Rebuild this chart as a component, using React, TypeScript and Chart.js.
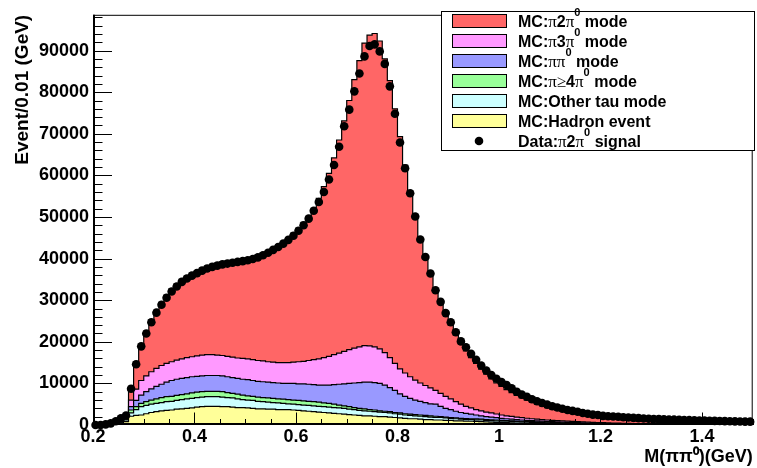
import React, { useEffect, useRef } from "react";
import { Chart, registerables } from "chart.js";

Chart.register(...registerables);

// ---- binning / axes ----
const BIN_START = 0.2;
const BIN_WIDTH = 0.01;
const X_MIN = 0.2;
const X_MAX = 1.5;
const Y_MIN = 0;
const Y_MAX = 98600;
const X_TICKS = [0.2, 0.4, 0.6, 0.8, 1, 1.2, 1.4];
const Y_TICKS = [0, 10000, 20000, 30000, 40000, 50000, 60000, 70000, 80000, 90000];
const X_MINOR_STEP = 0.05;
const Y_MINOR_STEP = 2000;

// ---- data points (Data: pi 2pi0 signal), one per 0.01 GeV bin ----
const DATA_SIGNAL = [
  0, 0, 150, 400, 900, 1600, 2300, 8700, 14600, 18900,
  22000, 24700, 27000, 28900, 30600, 32100, 33300, 34400, 35200, 35900,
  36500, 37100, 37600, 38000, 38300, 38600, 38800, 39000, 39200, 39400,
  39600, 39900, 40300, 40800, 41400, 42100, 42800, 43600, 44500, 45500,
  46700, 48000, 49600, 51500, 53600, 56000, 59000, 62500, 66900, 71800,
  75800, 80200, 84500, 88600, 91100, 91500, 89800, 86800, 81400, 74800,
  67900, 61700, 55700, 50100, 44600, 40400, 36400, 32400, 29600, 26900,
  24700, 22300, 20100, 18700, 17100, 15700, 14300, 13100, 12000, 11100,
  10300, 9600, 8800, 8000, 7300, 6800, 6200, 5700, 5300, 4900,
  4500, 4200, 3900, 3600, 3400, 3200, 2900, 2700, 2500, 2400,
  2200, 2120, 2050, 1970, 1880, 1800, 1720, 1650, 1580, 1520,
  1460, 1410, 1360, 1320, 1280, 1240, 1200, 1160, 1120, 1090,
  1060, 1030, 1000, 970, 940, 910, 880, 850, 820, 800,
];

// ---- MC stack: top of each stacked layer (THStack levels) ----
const STACK_PI2PI0 = [
  0, 50, 200, 450, 900, 1400, 2300, 9300, 15200, 19400,
  22600, 25300, 27600, 29500, 31200, 32700, 33900, 35000, 35800, 36500,
  37100, 37700, 38200, 38600, 38900, 39200, 39400, 39600, 39800, 40000,
  40200, 40500, 40900, 41400, 41900, 42600, 43300, 44100, 45000, 46100,
  47300, 48700, 50100, 52100, 54500, 57300, 60500, 64200, 68500, 73100,
  78000, 83000, 87600, 91800, 93700, 94100, 92300, 88000, 82800, 76000,
  69300, 62500, 56100, 50600, 44500, 40000, 36000, 32300, 29200, 26500,
  24000, 21600, 19500, 17800, 16200, 14800, 13400, 12200, 11100, 10100,
  9300, 8500, 7800, 7100, 6500, 6000, 5500, 5000, 4600, 4200,
  3900, 3600, 3300, 3050, 2800, 2600, 2400, 2200, 2050, 1900,
  1750, 1620, 1500, 1380, 1280, 1180, 1100, 1020, 950, 880,
  820, 760, 710, 660, 620, 580, 540, 500, 470, 440,
  410, 380, 360, 340, 320, 300, 280, 260, 250, 240,
];
const STACK_PI3PI0 = [
  0, 0, 150, 400, 800, 1300, 2100, 6000, 8600, 10700,
  11800, 12800, 13600, 14300, 14800, 15200, 15600, 15900, 16200, 16400,
  16600, 16800, 16900, 16900, 16800, 16700, 16500, 16300, 16100, 16000,
  15900, 15700, 15500, 15400, 15200, 15100, 15000, 15000, 15000, 15100,
  15200, 15300, 15500, 15700, 15900, 16200, 16500, 16900, 17300, 17700,
  18100, 18500, 18800, 19100, 19000, 18800, 18300, 17400, 16200, 14800,
  13500, 12500, 11600, 10800, 10100, 9500, 8900, 8300, 7600, 6900,
  6300, 5600, 5000, 4500, 4100, 3700, 3400, 3100, 2900, 2650,
  2400, 2200, 2050, 1900, 1750, 1620, 1500, 1400, 1300, 1200,
  1120, 1050, 980, 910, 850, 790, 730, 680, 630, 590,
  550, 510, 480, 440, 410, 380, 350, 330, 300, 280,
  260, 240, 220, 200, 190, 180, 170, 160, 150, 140,
  130, 120, 110, 100, 95, 90, 85, 80, 75, 70,
];
const STACK_PIPI0 = [
  0, 0, 120, 350, 650, 1050, 1700, 4400, 5900, 7200,
  8000, 8700, 9300, 9800, 10300, 10700, 11000, 11200, 11400, 11600,
  11700, 11800, 11900, 11900, 11900, 11800, 11600, 11400, 11200, 11000,
  10900, 10700, 10500, 10400, 10300, 10200, 10100, 10000, 10000, 10000,
  9900, 9900, 9800, 9700, 9600, 9600, 9600, 9700, 9800, 9900,
  10000, 10100, 10200, 10300, 10300, 10200, 10000, 9600, 9000, 8300,
  7500, 6900, 6400, 6000, 5700, 5400, 5100, 5000, 4500, 4000,
  3700, 3300, 3000, 2800, 2600, 2400, 2200, 2000, 1900, 1750,
  1600, 1500, 1400, 1300, 1200, 1120, 1050, 980, 920, 860,
  800, 750, 700, 650, 600, 560, 520, 480, 450, 420,
  390, 360, 340, 310, 290, 270, 250, 230, 210, 200,
  180, 170, 160, 150, 140, 130, 120, 110, 100, 95,
  90, 85, 80, 75, 70, 65, 60, 55, 50, 48,
];
const STACK_PI4PI0 = [
  0, 0, 100, 300, 550, 900, 1400, 3600, 4400, 5200,
  5600, 6000, 6300, 6600, 6800, 6900, 7100, 7300, 7500, 7700,
  7900, 8000, 8100, 8100, 8100, 8000, 7800, 7600, 7400, 7200,
  7000, 6900, 6700, 6600, 6500, 6400, 6300, 6200, 6100, 6000,
  5900, 5800, 5700, 5600, 5500, 5300, 5200, 5000, 4800, 4600,
  4400, 4200, 4000, 3900, 3700, 3600, 3400, 3300, 3200, 3000,
  2900, 2700, 2600, 2500, 2400, 2300, 2200, 2100, 2000, 1900,
  1800, 1700, 1600, 1550, 1500, 1450, 1400, 1300, 1250, 1200,
  1100, 1050, 1000, 950, 900, 850, 800, 750, 700, 650,
  600, 560, 520, 480, 450, 420, 390, 360, 330, 310,
  290, 270, 250, 230, 210, 200, 190, 170, 160, 150,
  140, 130, 120, 110, 100, 95, 90, 85, 80, 75,
  70, 65, 60, 55, 50, 48, 45, 42, 40, 38,
];
const STACK_OTHERTAU = [
  0, 0, 80, 250, 450, 750, 1200, 2900, 3700, 4400,
  4700, 5000, 5200, 5400, 5600, 5700, 5900, 6100, 6300, 6400,
  6600, 6700, 6800, 6800, 6800, 6700, 6600, 6500, 6300, 6100,
  6000, 5900, 5700, 5600, 5500, 5400, 5300, 5200, 5100, 5000,
  4900, 4800, 4700, 4600, 4500, 4400, 4300, 4200, 4100, 4000,
  3800, 3700, 3500, 3400, 3300, 3200, 3100, 3000, 2900, 2700,
  2600, 2400, 2300, 2200, 2100, 2000, 1900, 1800, 1800, 1700,
  1600, 1500, 1400, 1350, 1300, 1250, 1200, 1100, 1050, 1000,
  950, 900, 850, 800, 750, 700, 650, 600, 560, 520,
  480, 450, 420, 390, 360, 330, 310, 290, 270, 250,
  230, 210, 200, 180, 170, 160, 150, 140, 130, 120,
  110, 100, 90, 85, 80, 75, 70, 65, 60, 55,
  50, 48, 45, 42, 40, 37, 35, 32, 30, 28,
];
const STACK_HADRON = [
  0, 0, 50, 150, 300, 500, 800, 2100, 2300, 2400,
  2700, 3000, 3200, 3400, 3500, 3600, 3800, 3900, 4000, 4100,
  4300, 4400, 4500, 4500, 4500, 4400, 4400, 4300, 4200, 4200,
  4100, 4000, 3900, 3900, 3800, 3800, 3700, 3700, 3700, 3600,
  3500, 3400, 3300, 3200, 3100, 3000, 2900, 2800, 2700, 2600,
  2500, 2400, 2300, 2200, 2200, 2100, 2000, 2000, 1900, 1800,
  1700, 1600, 1500, 1500, 1400, 1300, 1300, 1200, 1200, 1100,
  1100, 1000, 1000, 950, 900, 850, 800, 750, 700, 650,
  600, 560, 520, 480, 440, 400, 370, 340, 310, 280,
  260, 240, 220, 200, 180, 170, 160, 150, 140, 130,
  120, 110, 100, 90, 85, 80, 75, 70, 65, 60,
  55, 50, 45, 40, 40, 35, 35, 30, 30, 28,
  26, 24, 22, 20, 18, 16, 15, 14, 13, 12,
];

// ---- legend / series ----
const LAYER_LABELS = [
  "MC:π2π^0 mode",
  "MC:π3π^0 mode",
  "MC:ππ^0 mode",
  "MC:π≥4π^0 mode",
  "MC:Other tau mode",
  "MC:Hadron event",
];
const DATA_LABEL = "Data:π2π^0 signal";
const LAYER_COLORS = ["#ff6666", "#ff99ff", "#9999ff", "#99ff99", "#ccffff", "#ffff99"];
const LAYER_VALUES = [STACK_PI2PI0, STACK_PI3PI0, STACK_PIPI0, STACK_PI4PI0, STACK_OTHERTAU, STACK_HADRON];

const Y_TITLE = "Event/0.01 (GeV)";
const X_TITLE = "M(ππ⁰)(GeV)";

const FONT = '"Liberation Sans", Arial, Helvetica, sans-serif';
const SERIF = '"Liberation Serif", "Times New Roman", serif';

const plain = (s: string) => s.replace("^0", "⁰");

function stepPoints(vals: number[]) {
  const pts = vals.map((v, i) => ({ x: BIN_START + i * BIN_WIDTH, y: v }));
  pts.push({ x: BIN_START + vals.length * BIN_WIDTH, y: vals[vals.length - 1] });
  return pts;
}

type Seg = { t: string; k: "b" | "s" | "u" };
function parseRich(s: string): Seg[] {
  const segs: Seg[] = [];
  for (let i = 0; i < s.length; i++) {
    let ch = s[i];
    let k: Seg["k"] = "b";
    if (ch === "^") {
      ch = s[++i];
      k = "u";
    } else if (ch === "π" || ch === "≥") k = "s";
    const last = segs[segs.length - 1];
    if (last && last.k === k) last.t += ch;
    else segs.push({ t: ch, k });
  }
  return segs;
}

function drawRich(ctx: CanvasRenderingContext2D, s: string, x: number, baseline: number, size: number) {
  let cx = x;
  ctx.textAlign = "left";
  ctx.textBaseline = "alphabetic";
  for (const seg of parseRich(s)) {
    let dy = 0;
    if (seg.k === "b") ctx.font = `bold ${size}px ${FONT}`;
    else if (seg.k === "s") ctx.font = `${size + 1}px ${SERIF}`;
    else {
      ctx.font = `bold ${Math.round(size * 0.68)}px ${FONT}`;
      dy = -size * 0.7;
    }
    ctx.fillText(seg.t, cx, baseline + dy);
    cx += ctx.measureText(seg.t).width;
  }
}

const rootPlugin = {
  id: "rootStyle",
  afterDatasetsDraw(chart: any) {
    const { ctx, chartArea: a, scales } = chart;
    const xs = scales.x;
    const ys = scales.y;
    ctx.save();
    ctx.strokeStyle = "#000";
    ctx.lineWidth = 1;
    for (let v = Y_MIN; v <= Y_MAX; v += Y_MINOR_STEP) {
      const py = Math.round(ys.getPixelForValue(v)) + 0.5;
      const len = v % 10000 === 0 ? 19 : 9.5;
      ctx.beginPath();
      ctx.moveTo(a.left, py);
      ctx.lineTo(a.left + len, py);
      ctx.stroke();
    }
    const nMinor = Math.round((X_MAX - X_MIN) / X_MINOR_STEP);
    for (let k = 0; k <= nMinor; k++) {
      const v = X_MIN + k * X_MINOR_STEP;
      const px = Math.round(xs.getPixelForValue(v)) + 0.5;
      const len = k % 4 === 0 ? 12.5 : 6;
      ctx.beginPath();
      ctx.moveTo(px, a.bottom);
      ctx.lineTo(px, a.bottom - len);
      ctx.stroke();
    }
    ctx.strokeRect(a.left + 0.5, a.top + 0.5, a.right - a.left - 1, a.bottom - a.top - 1);
    ctx.lineWidth = 2;
    ctx.beginPath();
    ctx.moveTo(a.left + 1, a.top);
    ctx.lineTo(a.left + 1, a.bottom);
    ctx.moveTo(a.left, a.bottom - 1);
    ctx.lineTo(a.right, a.bottom - 1);
    ctx.stroke();
    ctx.restore();
  },
  afterDraw(chart: any) {
    const { ctx } = chart;
    const x1 = 441, y1 = 11, x2 = 755, y2 = 151;
    const rowH = (y2 - y1) / 7;
    ctx.save();
    ctx.fillStyle = "#fff";
    ctx.fillRect(x1, y1, x2 - x1, y2 - y1);
    ctx.strokeStyle = "#000";
    ctx.lineWidth = 1;
    ctx.strokeRect(x1 + 0.5, y1 + 0.5, x2 - x1 - 1, y2 - y1 - 1);
    const size = 16;
    const labels = [...LAYER_LABELS, DATA_LABEL];
    labels.forEach((lab, i) => {
      const cy = y1 + rowH * (i + 0.5);
      if (i < LAYER_LABELS.length) {
        ctx.fillStyle = LAYER_COLORS[i];
        ctx.fillRect(452, Math.round(cy - 7), 54, 13);
        ctx.strokeStyle = "#000";
        ctx.strokeRect(452.5, Math.round(cy - 7) + 0.5, 54, 13);
      } else {
        ctx.fillStyle = "#000";
        ctx.beginPath();
        ctx.arc(479, cy, 4.3, 0, Math.PI * 2);
        ctx.fill();
      }
      ctx.fillStyle = "#000";
      drawRich(ctx, lab, 518, Math.round(cy + 6), size);
    });
    ctx.restore();
  },
};

export default function App() {
  const ref = useRef<HTMLCanvasElement | null>(null);
  useEffect(() => {
    document.body.style.margin = "0";
    const canvas = ref.current;
    if (!canvas) return;
    const layerDatasets = LAYER_VALUES.map((vals, i) => ({
      type: "line" as const,
      label: plain(LAYER_LABELS[i]),
      data: stepPoints(vals),
      stepped: true,
      fill: "origin",
      backgroundColor: LAYER_COLORS[i],
      borderColor: "#000",
      borderWidth: 1.2,
      pointRadius: 0,
      tension: 0,
      order: LAYER_VALUES.length - i + 1,
    }));
    const dataset = {
      type: "scatter" as const,
      label: plain(DATA_LABEL),
      data: DATA_SIGNAL.map((v, i) => ({ x: BIN_START + (i + 0.5) * BIN_WIDTH, y: v })),
      pointRadius: 4.3,
      pointStyle: "circle",
      backgroundColor: "#000",
      borderColor: "#000",
      borderWidth: 0,
      showLine: false,
      clip: false,
      order: 0,
    };
    const tickFont = { family: FONT, size: 18, weight: "bold" as const };
    const chart = new Chart(canvas, {
      type: "line",
      data: { datasets: [dataset as any, ...(layerDatasets as any[])] },
      options: {
        responsive: false,
        animation: false,
        events: [],
        layout: { padding: { left: 0, right: 4, top: 12, bottom: 0 } },
        plugins: { legend: { display: false }, tooltip: { enabled: false } },
        scales: {
          x: {
            type: "linear",
            min: X_MIN,
            max: X_MAX,
            afterFit: (s: any) => {
              s.height = 43;
            },
            afterBuildTicks: (s: any) => {
              s.ticks = X_TICKS.map((v) => ({ value: v }));
            },
            ticks: {
              font: tickFont,
              color: "#000",
              padding: 1,
              maxRotation: 0,
              autoSkip: false,
              callback: (v: any) => String(v),
            },
            grid: { display: false, drawTicks: false },
            border: { display: false },
            title: {
              display: true,
              text: X_TITLE,
              align: "end",
              color: "#000",
              font: { family: FONT, size: 18, weight: "bold" },
              padding: { top: 0, bottom: 0 },
            },
          },
          y: {
            type: "linear",
            min: Y_MIN,
            max: Y_MAX,
            afterFit: (s: any) => {
              s.width = 93;
            },
            afterBuildTicks: (s: any) => {
              s.ticks = Y_TICKS.map((v) => ({ value: v }));
            },
            ticks: {
              font: tickFont,
              color: "#000",
              padding: 4,
              autoSkip: false,
              callback: (v: any) => String(v),
            },
            grid: { display: false, drawTicks: false },
            border: { display: false },
            title: {
              display: true,
              text: Y_TITLE,
              align: "end",
              color: "#000",
              font: { family: FONT, size: 19, weight: "bold" },
              padding: { top: 11, bottom: 0 },
            },
          },
        },
      },
      plugins: [rootPlugin],
    } as any);
    return () => chart.destroy();
  }, []);
  return (
    <div style={{ width: 757, height: 468, background: "#fff" }}>
      <canvas ref={ref} width={757} height={468} style={{ display: "block" }} />
    </div>
  );
}
